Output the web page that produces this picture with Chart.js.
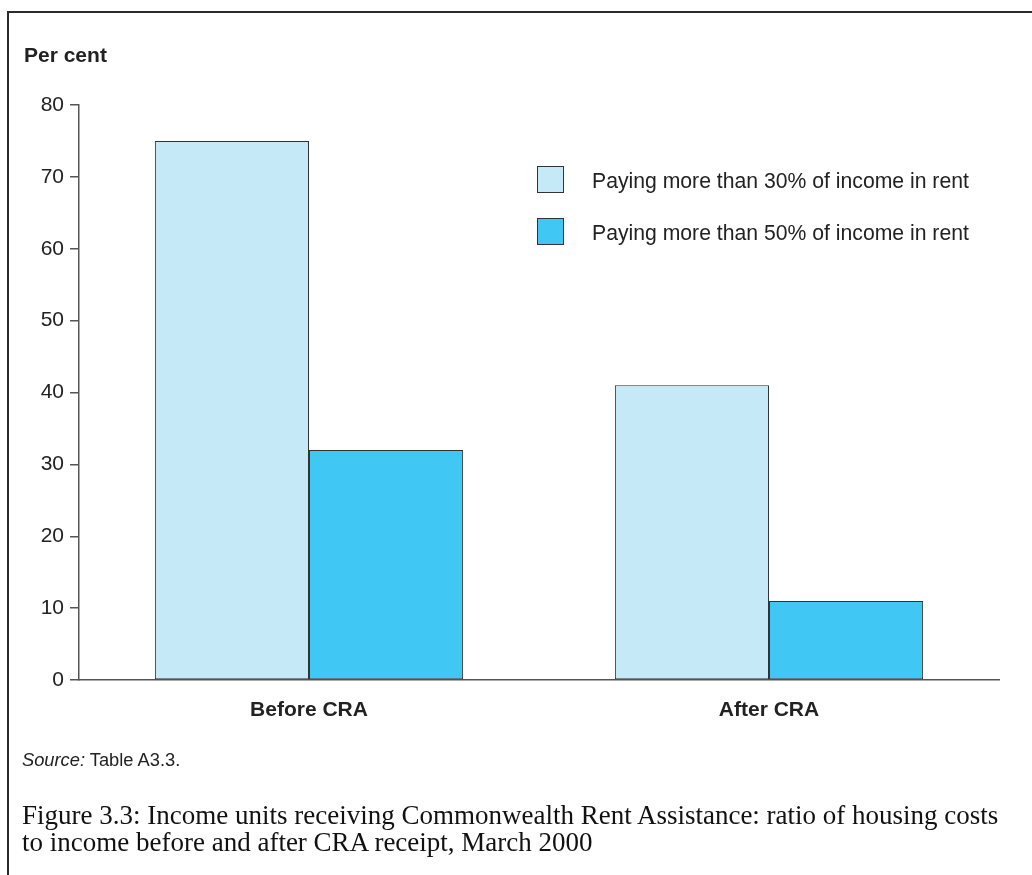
<!DOCTYPE html>
<html>
<head>
<meta charset="utf-8">
<script src="https://cdn.jsdelivr.net/npm/chart.js@4.4.1/dist/chart.umd.min.js"></script>
<style>
  body { margin: 0; background: #fff; }
  #wrap { position: relative; width: 1032px; height: 875px; overflow: hidden;
          font-family: "Liberation Sans", Arial, sans-serif; color: #222; }
  #frame { position: absolute; left: 7px; top: 11px; width: 1040px; height: 900px;
           border-left: 2px solid #2b2b2b; border-top: 2px solid #2b2b2b; }
  #chart { position: absolute; left: 0; top: 0; }
  .txt { position: absolute; line-height: 1; white-space: nowrap; }
  #unit { left: 24px; top: 44px; font-size: 21px; font-weight: bold; }
  .key { position: absolute; left: 537px; width: 25px; height: 25px; border: 1px solid #333; }
  .keyLabel { left: 592px; font-size: 21.2px; }
  #source { left: 22px; top: 751px; font-size: 18.3px; }
  #caption { position: absolute; left: 22px; top: 802px; font-family: "Liberation Serif", "Times New Roman", serif;
             font-size: 27px; line-height: 27px; color: #111; white-space: nowrap; }
</style>
</head>
<body>
<div id="wrap">
  <div id="frame"></div>
  <canvas id="chart" width="1032" height="875"></canvas>
  <div class="txt" id="unit">Per cent</div>
  <div id="legend"></div>
  <div class="txt" id="source"><i>Source:</i> Table A3.3.</div>
  <div id="caption">Figure 3.3: Income units receiving Commonwealth Rent Assistance: ratio of housing costs<br>to income before and after CRA receipt, March 2000</div>
</div>
<script>
const categories = ['Before CRA', 'After CRA'];
const seriesNames = ['Paying more than 30% of income in rent', 'Paying more than 50% of income in rent'];
const over30 = [75, 41];
const over50 = [32, 11];
const yTicks = [0, 10, 20, 30, 40, 50, 60, 70, 80];
const colours = ['#c6e9f8', '#40c7f3'];

// legend drawn as plain boxes beside the bars
const legend = document.getElementById('legend');
seriesNames.forEach((name, i) => {
    const top = 166 + i * 52;
    const box = document.createElement('div');
    box.className = 'key';
    box.style.top = top + 'px';
    box.style.background = colours[i];
    legend.appendChild(box);
    const label = document.createElement('div');
    label.className = 'txt keyLabel';
    label.style.top = (top + 4) + 'px';
    label.textContent = name;
    legend.appendChild(label);
});

const ctx = document.getElementById('chart').getContext('2d');
new Chart(ctx, {
    type: 'bar',
    data: {
        labels: categories,
        datasets: [over30, over50].map((values, i) => ({
            label: seriesNames[i],
            data: values,
            backgroundColor: colours[i],
            borderColor: '#333',
            borderWidth: 1,
            borderSkipped: false,
            barPercentage: 1,
            categoryPercentage: 0.67,
        })),
    },
    options: {
        responsive: false,
        animation: false,
        layout: { padding: { top: 105, right: 33, left: 0, bottom: 0 } },
        plugins: { legend: { display: false }, tooltip: { enabled: false } },
        scales: {
            x: {
                grid: { display: false, drawTicks: false },
                border: { display: true, color: '#555', width: 1.5 },
                ticks: {
                    padding: 18,
                    color: '#222',
                    font: { family: '"Liberation Sans", Arial, sans-serif', size: 21, weight: 'bold' },
                },
                afterFit: (scale) => { scale.height = 195; },
            },
            y: {
                min: 0,
                max: 80,
                afterBuildTicks: (scale) => { scale.ticks = yTicks.map(v => ({ value: v })); },
                grid: { drawOnChartArea: false, tickLength: 9, color: '#555', lineWidth: 1.5 },
                border: { display: true, color: '#555', width: 1.5 },
                ticks: {
                    padding: 6,
                    color: '#222',
                    font: { family: '"Liberation Sans", Arial, sans-serif', size: 21 },
                },
                afterFit: (scale) => { scale.width = 79; },
            },
        },
    },
});
</script>
</body>
</html>
